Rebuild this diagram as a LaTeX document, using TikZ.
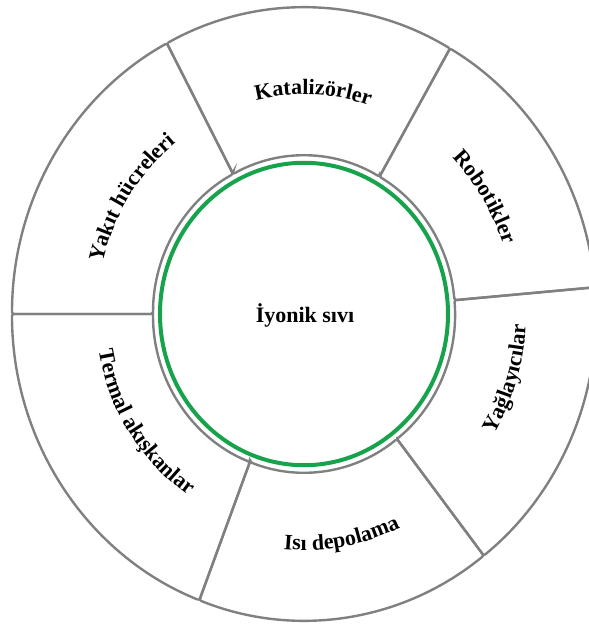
\documentclass[tikz,border=0pt]{standalone}
\usepackage{fontspec}
\setmainfont{Liberation Serif}
\usetikzlibrary{decorations.text}
\definecolor{ringgray}{RGB}{128,128,128}
\definecolor{ringgreen}{RGB}{22,163,76}
\newcommand\lblfont{\bfseries\fontsize{16.5}{19}\selectfont}

\begin{document}
\begin{tikzpicture}[x=0.75pt, y=0.7875pt,
		sector/.style={draw=ringgray, line width=1.8pt, rounded corners=1.5pt},
		arclabel/.style={decorate, decoration={text along path, text align=center, text={|\lblfont|#1}}}]
			\useasboundingbox (-304,-295.24) rectangle (285,299.05);

			\draw[sector] (5:151) -- (5:292) arc[start angle=5, end angle=60, radius=292] -- (60:151) arc[start angle=60, end angle=5, radius=151] -- cycle;
			\draw[sector] (60:151) -- (60:292) arc[start angle=60, end angle=118, radius=292] -- (118:151) arc[start angle=118, end angle=60, radius=151] -- cycle;
			\draw[sector] (118:151) -- (118:292) arc[start angle=118, end angle=180, radius=292] -- (180:151) arc[start angle=180, end angle=118, radius=151] -- cycle;
			\draw[sector] (180:151) -- (180:292) arc[start angle=180, end angle=249, radius=292] -- (249:151) arc[start angle=249, end angle=180, radius=151] -- cycle;
			\draw[sector] (249:151) -- (249:292) arc[start angle=249, end angle=308, radius=292] -- (308:151) arc[start angle=308, end angle=249, radius=151] -- cycle;
			\draw[sector] (308:151) -- (308:292) arc[start angle=308, end angle=365, radius=292] -- (365:151) arc[start angle=365, end angle=308, radius=151] -- cycle;

			\draw[ringgreen, line width=3pt] (0,0) circle[radius=144];
			\node[font=\lblfont] (core) at (1,-1) {İyonik sıvı};

			\path[arclabel=Katalizörler] (117.5:209) arc[start angle=117.5, end angle=57.5, radius=209];
			\path[arclabel=Robotikler] (62:210) arc[start angle=62, end angle=2, radius=210];
			\path[arclabel=Yakıt hücreleri] (177:207) arc[start angle=177, end angle=117, radius=207];
			\path[arclabel=Termal akışkanlar] (183:208) arc[start angle=183, end angle=243, radius=208];
			\path[arclabel=Isı depolama] (-110:225) arc[start angle=-110, end angle=-50, radius=225];
			\path[arclabel=Yağlayıcılar] (-47:222) arc[start angle=-47, end angle=13, radius=222];
		\end{tikzpicture}
\end{document}
